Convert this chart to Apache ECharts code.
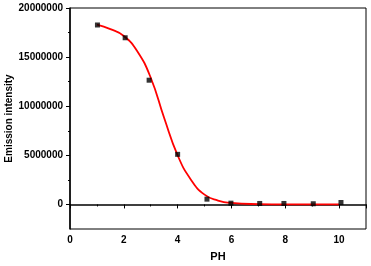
<!DOCTYPE html>
<html>
<head>
<meta charset="utf-8">
<script src="https://cdn.jsdelivr.net/npm/echarts@6/dist/echarts.min.js"></script>
<style>
  html, body { margin: 0; padding: 0; background: #fff; }
  #chart { width: 371px; height: 266px; }
</style>
</head>
<body>
<div id="chart"></div>
<script>
// measured points (PH, intensity)
const phValues = [1.02, 2.05, 2.94, 4.0, 5.09, 5.98, 7.05, 7.95, 9.04, 10.07];
const intensityValues = [18270000, 16970000, 12650000, 5100000, 540000, 130000, 100000, 100000, 70000, 200000];

// fitted curve
const fitPH = [1, 1.5, 2, 2.5, 3, 3.5, 4, 4.5, 5, 5.5, 6, 7, 8, 9, 10];
const fitValues = [18300000, 17850000, 17150000, 15600000, 12900000, 8800000, 5000000, 2500000, 1000000, 400000, 150000, 30000, 0, 0, 0];

const yMajorTicks = [0, 5000000, 10000000, 15000000, 20000000];
const yMinorTicks = [2500000, 7500000, 12500000, 17500000];

const font = 'Liberation Sans, Arial, sans-serif';

const chart = echarts.init(document.getElementById('chart'));

const option = {
  animation: false,
  grid: {
    left: 70,
    right: 5,
    top: 8,
    bottom: 37,
    outerBoundsMode: 'none',
    containLabel: false,
    show: true,
    borderColor: '#000',
    borderWidth: 1,
  },
  xAxis: {
    type: 'value',
    min: 0,
    max: 11,
    interval: 2,
    name: 'PH',
    nameLocation: 'middle',
    nameGap: 22,
    nameMoveOverlap: false,
    nameTextStyle: { fontFamily: font, fontWeight: 'bold', fontSize: 11, color: '#000' },
    axisLine: { lineStyle: { color: '#000', width: 1.5 } },
    axisTick: { length: 4, lineStyle: { color: '#000' } },
    minorTick: { show: true, splitNumber: 2, length: 2, lineStyle: { color: '#000' } },
    axisLabel: {
      fontFamily: font, fontWeight: 'bold', fontSize: 10, color: '#000', margin: 6,
      showMaxLabel: false,
      formatter: (v) => (v > 10 ? '' : String(v)),
    },
    splitLine: { show: false },
  },
  yAxis: [
    {
      type: 'value',
      min: -2500000,
      max: 20000000,
      name: 'Emission intensity',
      nameLocation: 'middle',
      nameGap: 56,
      nameMoveOverlap: false,
      nameTextStyle: { fontFamily: font, fontWeight: 'bold', fontSize: 10, color: '#000' },
      axisLine: { onZero: false, lineStyle: { color: '#000', width: 1.5 } },
      axisTick: { length: 4, customValues: yMajorTicks, lineStyle: { color: '#000' } },
      axisLabel: {
        fontFamily: font, fontWeight: 'bold', fontSize: 10, color: '#000', margin: 7,
        customValues: yMajorTicks,
        formatter: (v) => String(v),
      },
      splitLine: { show: false },
    },
    {
      type: 'value',
      position: 'left',
      min: -2500000,
      max: 20000000,
      axisLine: { show: false },
      axisTick: { length: 2, customValues: yMinorTicks, lineStyle: { color: '#000' } },
      axisLabel: { show: false },
      splitLine: { show: false },
    },
  ],
  series: [
    {
      type: 'line',
      smooth: true,
      showSymbol: false,
      symbol: 'none',
      data: fitPH.map((x, i) => [x, fitValues[i]]),
      lineStyle: { color: '#ff0000', width: 1.8 },
      z: 2,
    },
    {
      type: 'scatter',
      symbol: 'rect',
      symbolSize: 5,
      data: phValues.map((x, i) => [x, intensityValues[i]]),
      itemStyle: { color: '#000' },
      z: 3,
    },
  ],
};

chart.setOption(option);
</script>
</body>
</html>
